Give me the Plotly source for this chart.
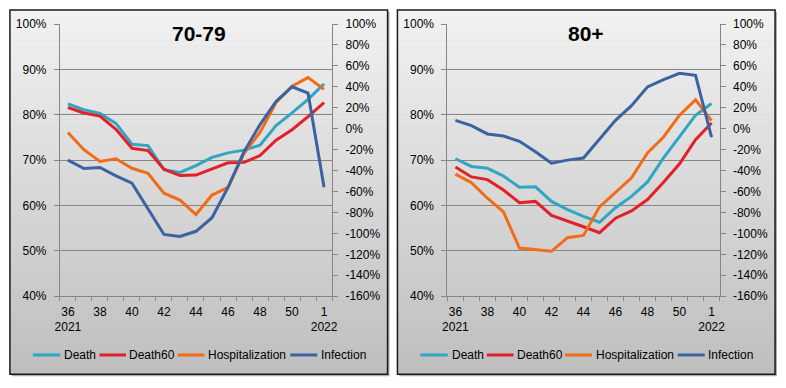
import plotly.graph_objects as go

# ---------------- data ----------------
weeks = ["36", "37", "38", "39", "40", "41", "42", "43", "44", "45", "46", "47", "48", "49", "50", "51", "1"]
tick_labels = ["36<br>2021", "38", "40", "42", "44", "46", "48", "50", "1<br>2022"]
series_names = ["Death", "Death60", "Hospitalization", "Infection"]
panel_titles = ["70-79", "80+"]

# 70-79 (left axis, %)
death_7079 = [82.4, 81.1, 80.3, 78.1, 73.5, 73.2, 67.9, 67.3, 68.8, 70.6, 71.6, 72.2, 73.3, 77.6, 80.4, 83.4, 86.8]
death60_7079 = [81.6, 80.4, 79.7, 76.8, 72.6, 72.1, 68.0, 66.6, 66.7, 68.0, 69.4, 69.5, 71.0, 74.4, 76.7, 79.6, 82.7]
hosp_7079 = [76.1, 72.3, 69.7, 70.3, 68.2, 67.1, 62.7, 61.2, 58.0, 62.3, 64.0, 71.5, 76.1, 82.7, 86.3, 88.2, 85.6]
# 70-79 infection (right axis, %)
infection_7079 = [-30, -38, -37, -45, -52, -77, -101, -103, -98, -85, -56, -22, 4, 26, 40, 34, -56]

# 80+ (left axis, %)
death_80 = [70.3, 68.6, 68.2, 66.5, 64.0, 64.1, 60.9, 59.1, 57.6, 56.3, 59.5, 62.0, 65.2, 70.5, 75.2, 79.9, 82.5]
death60_80 = [68.5, 66.3, 65.7, 63.4, 60.6, 60.9, 57.8, 56.6, 55.3, 54.0, 57.2, 58.8, 61.3, 65.1, 69.2, 74.5, 78.2]
hosp_80 = [66.9, 65.0, 61.6, 58.6, 50.6, 50.2, 49.9, 52.9, 53.4, 59.7, 62.8, 66.1, 71.6, 75.1, 79.9, 83.3, 78.7]
# 80+ infection (right axis, %)
infection_80 = [8, 3, -5, -7, -12, -22, -33, -30, -28, -10, 8, 22, 40, 47, 53, 51, -8]

left_ticks = [40, 50, 60, 70, 80, 90, 100]
right_ticks = [-160, -140, -120, -100, -80, -60, -40, -20, 0, 20, 40, 60, 80, 100]
grid_vals = [50, 60, 70, 80, 90]

colors = {"Death": "#2fa6c4", "Death60": "#e3202a", "Hospitalization": "#f26c17", "Infection": "#3b62a1"}

W, H = 786, 388
FONT = "Liberation Sans"
AXC = "#868686"

fig = go.Figure()
xpos = list(range(len(weeks)))

panels = [
    dict(data=[death_7079, death60_7079, hosp_7079, infection_7079], xa="x", yl="y", yr="y2"),
    dict(data=[death_80, death60_80, hosp_80, infection_80], xa="x2", yl="y3", yr="y4"),
]
for p in panels:
    for name, vals in zip(series_names, p["data"]):
        yref = p["yr"] if name == "Infection" else p["yl"]
        fig.add_trace(go.Scatter(
            x=xpos, y=vals, name=name, mode="lines",
            line=dict(color=colors[name], width=3),
            xaxis=p["xa"], yaxis=yref, showlegend=False,
            customdata=weeks, hovertemplate="%{customdata}: %{y}%<extra>" + name + "</extra>",
        ))

# ---------------- layout geometry ----------------
def fx(px):
    return px / W

def fy(py):
    return 1 - py / H

plot_top, plot_bot = 17.7, 300.0
x_domains = [(55.7, 331.7), (448.7, 724.7)]
boxes = [(5, 3, 388, 381), (398, 3, 781, 381)]

tickfont = dict(family=FONT, size=12, color="#000000")
major_x = [0, 2, 4, 6, 8, 10, 12, 14, 16]
minor_x = [k - 0.5 for k in range(len(weeks) + 1)]

layout = dict(
    width=W, height=H, autosize=False,
    margin=dict(l=0, r=0, t=0, b=0),
    paper_bgcolor="#ffffff", plot_bgcolor="#ffffff",
    showlegend=False,
    font=dict(family=FONT, size=12, color="#000000"),
)

for i, (xa, yl, yr) in enumerate([("xaxis", "yaxis", "yaxis2"), ("xaxis2", "yaxis3", "yaxis4")]):
    xname = "x" if i == 0 else "x2"
    ylname = "y" if i == 0 else "y3"
    d0, d1 = x_domains[i]
    layout[xa] = dict(
        domain=[fx(d0), fx(d1)], anchor=ylname, range=[-0.5, len(weeks) - 0.5],
        tickmode="array", tickvals=major_x, ticktext=tick_labels,
        ticks="", showgrid=False, zeroline=False,
        showline=True, linecolor=AXC, linewidth=1,
        tickfont=tickfont, ticklabelstandoff=4,
        minor=dict(tickmode="array", tickvals=minor_x, ticks="outside", ticklen=4,
                   tickcolor=AXC, tickwidth=1, showgrid=False),
    )
    layout[yl] = dict(
        domain=[fy(plot_bot), fy(plot_top)], anchor=xname, range=[40, 100],
        tickmode="array", tickvals=left_ticks, ticktext=[f"{v}%" for v in left_ticks],
        ticks="outside", ticklen=5, tickcolor=AXC, showgrid=False, zeroline=False,
        showline=True, linecolor=AXC, linewidth=1, tickfont=tickfont, ticklabelstandoff=5,
        minor=dict(tickmode="array", tickvals=grid_vals, ticks="", showgrid=True,
                   gridcolor=AXC, gridwidth=1),
    )
    layout[yr] = dict(
        overlaying=ylname, side="right", anchor=xname, range=[-160, 100],
        tickmode="array", tickvals=right_ticks, ticktext=[f"{v}%" for v in right_ticks],
        ticks="outside", ticklen=5, tickcolor=AXC, showgrid=False, zeroline=False,
        showline=True, linecolor=AXC, linewidth=1, tickfont=tickfont, ticklabelstandoff=5,
    )

# background: shadow, gradient bands, border
shapes = []
for i, (bx0, by0, bx1, by1) in enumerate(boxes):
    shapes.append(dict(type="rect", xref="paper", yref="paper",
                       x0=fx(bx0 + 2), x1=fx(bx1 + 2), y0=fy(by1 + 2), y1=fy(by0 + 2),
                       fillcolor="#b0b0b0", line=dict(width=0), layer="below"))
    n = 60
    top_c, bot_c = 242, 190
    for k in range(n):
        y0p = by0 + (by1 - by0) * k / n
        y1p = by0 + (by1 - by0) * (k + 1) / n
        c = int(round(top_c + (bot_c - top_c) * (k + 0.5) / n))
        shapes.append(dict(type="rect", xref="paper", yref="paper",
                           x0=fx(bx0), x1=fx(bx1), y0=fy(y1p + 0.5), y1=fy(y0p),
                           fillcolor=f"rgb({c},{c},{c})", line=dict(width=0), layer="below"))
    shapes.append(dict(type="rect", xref="paper", yref="paper",
                       x0=fx(bx0), x1=fx(bx1), y0=fy(by1), y1=fy(by0),
                       fillcolor="rgba(0,0,0,0)", line=dict(color="#1a1a1a", width=1.5), layer="below"))

annotations = []
# manual legends (line sample + label), offsets relative to each panel box
legend_line_x = [(23.3, 51), (90.7, 117.7), (170, 197.3), (284.3, 311.7)]
legend_text_x = [53.3, 119, 199, 313.3]
legend_y = 361
for i in range(2):
    bx0 = boxes[i][0]
    for j, name in enumerate(series_names):
        lx0, lx1 = legend_line_x[j]
        shapes.append(dict(type="line", xref="paper", yref="paper",
                           x0=fx(bx0 + lx0), x1=fx(bx0 + lx1), y0=fy(legend_y), y1=fy(legend_y),
                           line=dict(color=colors[name], width=3)))
        annotations.append(dict(text=name, xref="paper", yref="paper",
                                x=fx(bx0 + legend_text_x[j]), y=fy(legend_y),
                                xanchor="left", yanchor="middle", showarrow=False,
                                font=dict(family=FONT, size=12, color="#000000")))

layout["shapes"] = shapes

for i, t in enumerate(panel_titles):
    bx0, by0, bx1, by1 = boxes[i]
    annotations.append(dict(
        text="<b>" + t + "</b>", xref="paper", yref="paper",
        x=fx((bx0 + bx1) / 2), y=fy(28), xanchor="center", yanchor="middle",
        showarrow=False, font=dict(family=FONT, size=21, color="#000000"),
    ))
layout["annotations"] = annotations

fig.update_layout(**layout)
fig.write_html("out.html", config={"displayModeBar": False},
               post_script="document.body.style.margin='0';document.body.style.padding='0';")
